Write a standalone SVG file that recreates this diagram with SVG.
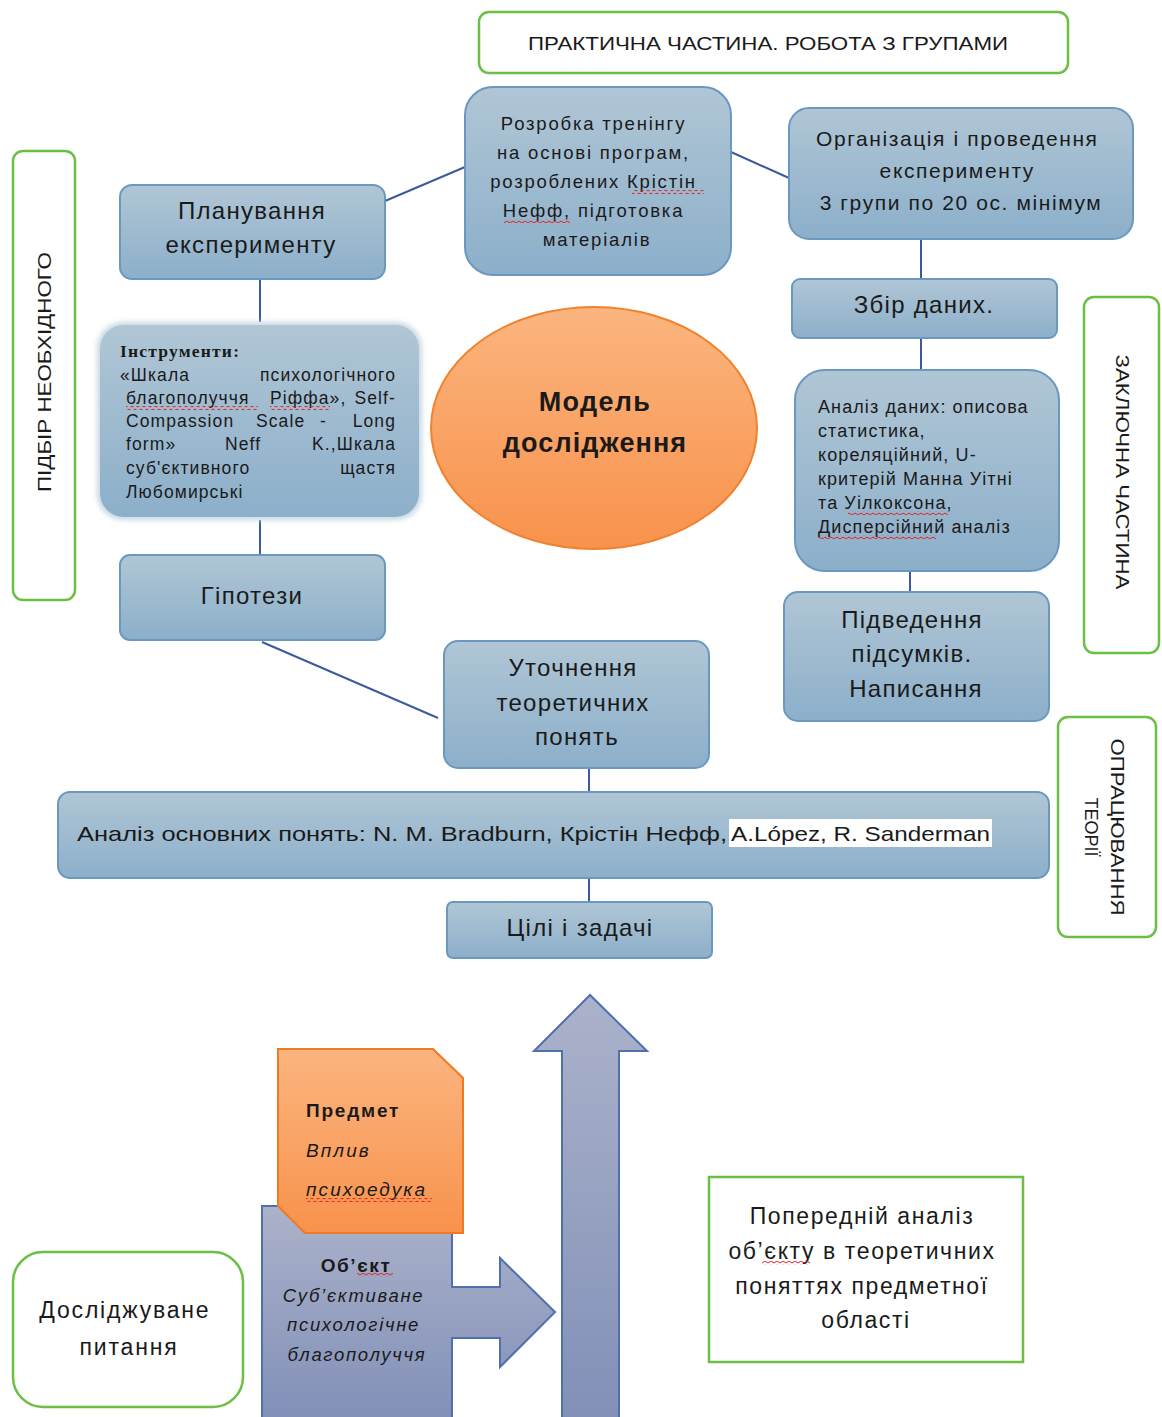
<svg xmlns="http://www.w3.org/2000/svg" width="1162" height="1417" viewBox="0 0 1162 1417">
<defs>
<linearGradient id="gBlue" x1="0" y1="0" x2="0" y2="1"><stop offset="0" stop-color="#b0c6d5"/><stop offset="1" stop-color="#8cafca"/></linearGradient>
<linearGradient id="gOrange" x1="0" y1="0" x2="0" y2="1"><stop offset="0" stop-color="#fbb57f"/><stop offset="1" stop-color="#f8924c"/></linearGradient>
<linearGradient id="gArrow" x1="0" y1="0" x2="0" y2="1"><stop offset="0" stop-color="#abb2ca"/><stop offset="1" stop-color="#8290b8"/></linearGradient>
<pattern id="wave" width="6" height="4" patternUnits="userSpaceOnUse"><path d="M0,3 L3,1 L6,3" fill="none" stroke="#e02020" stroke-width="1"/></pattern>
<filter id="soft" x="-10%" y="-10%" width="120%" height="120%"><feGaussianBlur stdDeviation="2.5"/></filter>
</defs>
<style>
.node{fill:url(#gBlue);stroke:#6a98c0;stroke-width:2}
.green{fill:#fff;stroke:#6cbf45;stroke-width:2.5}
.t{font-family:"Liberation Sans",Arial,sans-serif;fill:#1a1a1a}
.c{text-anchor:middle}
.w{letter-spacing:1.3px;font-size:24px}
.conn{stroke:#3d5a9e;stroke-width:2;fill:none}
.wv{fill:url(#wave)}
</style>
<rect width="1162" height="1417" fill="#fff"/>

<g id="connectors">
<line class="conn" x1="385" y1="201" x2="465" y2="167"/>
<line class="conn" x1="731" y1="152" x2="789" y2="178"/>
<line class="conn" x1="260" y1="279" x2="260" y2="322"/>
<line class="conn" x1="260" y1="520" x2="260" y2="555"/>
<line class="conn" x1="262" y1="642" x2="438" y2="718"/>
<line class="conn" x1="921" y1="239" x2="921" y2="279"/>
<line class="conn" x1="921" y1="338" x2="921" y2="370"/>
<line class="conn" x1="910" y1="571" x2="910" y2="592"/>
<line class="conn" x1="589" y1="768" x2="589" y2="792"/>
<line class="conn" x1="589" y1="878" x2="589" y2="902"/>
</g>

<g id="banner-practical">
<rect class="green" x="479" y="12" width="589" height="61" rx="10"/>
<text class="t c" x="768" y="50" font-size="18" textLength="480" lengthAdjust="spacingAndGlyphs">ПРАКТИЧНА  ЧАСТИНА.  РОБОТА  З ГРУПАМИ</text>
</g>

<g id="label-selection">
<rect class="green" x="13" y="151" width="62" height="449" rx="10"/>
<text class="t c" transform="translate(44,372) rotate(-90)" y="7" font-size="18" textLength="240" lengthAdjust="spacingAndGlyphs">ПІДБІР НЕОБХІДНОГО</text>
</g>

<g id="label-final">
<rect class="green" x="1084" y="297" width="75" height="356" rx="10"/>
<text class="t c" transform="translate(1122,472) rotate(90)" y="6" font-size="18" textLength="235" lengthAdjust="spacingAndGlyphs">ЗАКЛЮЧНА ЧАСТИНА</text>
</g>

<g id="label-theory">
<rect class="green" x="1058" y="717" width="98" height="220" rx="10"/>
<g transform="translate(1105,827) rotate(90)">
<text class="t c" y="-6" font-size="18" textLength="177" lengthAdjust="spacingAndGlyphs">ОПРАЦЮВАННЯ</text>
<text class="t c" y="20" font-size="18">ТЕОРІЇ</text>
</g>
</g>

<g id="node-planning">
<rect class="node" x="120" y="185" width="265" height="94" rx="12"/>
<text class="t c w" x="252" y="219">Планування</text>
<text class="t c w" x="251" y="253">експерименту</text>
</g>

<g id="node-training">
<rect class="node" x="465" y="87" width="266" height="188" rx="28"/>
<text class="t c" font-size="18.5" letter-spacing="1.8">
<tspan x="597" y="130">Розробка тренінгу</tspan>
<tspan x="597" y="159">на основі програм,</tspan>
<tspan x="597" y="188">розроблених Крістін</tspan>
<tspan x="597" y="217">Нефф, підготовка</tspan>
<tspan x="597" y="246">матеріалів</tspan>
</text>
<rect class="wv" x="632" y="190" width="72" height="4"/>
<rect class="wv" x="504" y="219" width="66" height="4"/>
</g>

<g id="node-organization">
<rect class="node" x="789" y="108" width="344" height="131" rx="20"/>
<text class="t c" font-size="21" letter-spacing="1.6">
<tspan x="961" y="146">Організація і проведення</tspan>
<tspan x="961" y="178">експерименту</tspan>
<tspan x="961" y="210">3 групи по 20 ос. мінімум</tspan>
</text>
</g>

<g id="node-collection">
<rect class="node" x="792" y="279" width="265" height="59" rx="8"/>
<text class="t c w" x="924" y="313">Збір даних.</text>
</g>

<g id="node-instruments">
<rect x="97" y="322" width="325" height="198" rx="26" fill="#c9d8e3" filter="url(#soft)"/>
<rect x="100" y="325" width="319" height="192" rx="24" fill="url(#gBlue)"/>
<text x="120" y="357" font-family="Liberation Serif,'Times New Roman',serif" font-weight="bold" font-size="17.5" letter-spacing="1.2" fill="#1a1a1a">Інструменти:</text>
<g class="t" font-size="17.5" letter-spacing="1.1">
<text x="120" y="381">«Шкала</text><text x="396" y="381" text-anchor="end">психологічного</text>
<text x="126" y="404">благополуччя</text><text x="270" y="404">Ріффа»,</text><text x="396" y="404" text-anchor="end">Self-</text>
<text x="126" y="427">Compassion</text><text x="256" y="427">Scale</text><text x="320" y="427">-</text><text x="396" y="427" text-anchor="end">Long</text>
<text x="126" y="450">form»</text><text x="225" y="450">Neff</text><text x="396" y="450" text-anchor="end">K.,Шкала</text>
<text x="126" y="474">суб'єктивного</text><text x="396" y="474" text-anchor="end">щастя</text>
<text x="126" y="498">Любомирські</text>
</g>
<rect class="wv" x="126" y="406" width="132" height="4"/>
<rect class="wv" x="270" y="406" width="60" height="4"/>
</g>

<g id="node-model">
<ellipse cx="594" cy="428" rx="163" ry="121" fill="url(#gOrange)" stroke="#f0822e" stroke-width="2"/>
<text class="t c" x="595" y="411" font-size="27" font-weight="bold" letter-spacing="1.3">Модель</text>
<text class="t c" x="595" y="452" font-size="27" font-weight="bold" letter-spacing="1.1">дослідження</text>
</g>

<g id="node-data-analysis">
<rect class="node" x="795" y="370" width="264" height="201" rx="30"/>
<text class="t" font-size="18" letter-spacing="1.1">
<tspan x="818" y="413">Аналіз даних: описова</tspan>
<tspan x="818" y="437">статистика,</tspan>
<tspan x="818" y="461">кореляційний, U-</tspan>
<tspan x="818" y="485">критерій Манна Уітні</tspan>
<tspan x="818" y="509">та Уілкоксона,</tspan>
<tspan x="818" y="533">Дисперсійний аналіз</tspan>
</text>
<rect class="wv" x="848" y="511" width="100" height="4"/>
<rect class="wv" x="818" y="535" width="118" height="4"/>
</g>

<g id="node-hypotheses">
<rect class="node" x="120" y="555" width="265" height="85" rx="10"/>
<text class="t c w" x="252" y="604">Гіпотези</text>
</g>

<g id="node-summary">
<rect class="node" x="784" y="592" width="265" height="129" rx="14"/>
<text class="t c w">
<tspan x="916" y="628">Підведення</tspan>
<tspan x="916" y="662">підсумків.</tspan>
<tspan x="916" y="697">Написання</tspan>
</text>
</g>

<g id="node-concepts">
<rect class="node" x="444" y="641" width="265" height="127" rx="14"/>
<text class="t c w">
<tspan x="577" y="676">Уточнення</tspan>
<tspan x="577" y="711">теоретичних</tspan>
<tspan x="577" y="745">понять</tspan>
</text>
</g>

<g id="node-main-analysis">
<rect class="node" x="58" y="792" width="991" height="86" rx="12"/>
<rect x="729" y="819" width="263" height="28" fill="#fff"/>
<text class="t" x="77" y="841" font-size="21" textLength="650" lengthAdjust="spacingAndGlyphs">Аналіз основних понять: N. M. Bradburn, Крістін Нефф,</text>
<text class="t" x="731" y="841" font-size="21" textLength="259" lengthAdjust="spacingAndGlyphs">A.López, R. Sanderman</text>
</g>

<g id="node-goals">
<rect class="node" x="447" y="902" width="265" height="56" rx="6"/>
<text class="t c w" x="580" y="936">Цілі і задачі</text>
</g>

<g id="shape-up-arrow">
<path d="M562,1417 L562,1051 L534,1051 L590,995 L647,1051 L619,1051 L619,1417" fill="url(#gArrow)" stroke="#4f6fad" stroke-width="2"/>
</g>

<g id="node-object">
<path d="M262,1417 L262,1206 L452,1206 L452,1287 L500,1287 L500,1258 L555,1312 L500,1367 L500,1338 L452,1338 L452,1417" fill="url(#gArrow)" stroke="#4f6fad" stroke-width="2"/>
<text class="t c" x="356" y="1272" font-size="19" font-weight="bold" letter-spacing="1.6">Об’єкт</text>
<text class="t c" font-size="18.5" font-style="italic" letter-spacing="1.7">
<tspan x="357" y="1302">Суб’єктиване</tspan>
<tspan x="357" y="1331">психологічне</tspan>
<tspan x="357" y="1361">благополуччя</tspan>
</text>
<rect class="wv" x="357" y="1273" width="36" height="4"/>
</g>

<g id="node-subject">
<path d="M278,1049 L433,1049 L463,1078 L463,1233 L305,1233 L278,1206 Z" fill="url(#gOrange)" stroke="#f07a22" stroke-width="2"/>
<text class="t" x="306" y="1117" font-size="19" font-weight="bold" letter-spacing="1.8">Предмет</text>
<text class="t" x="306" y="1157" font-size="19" font-style="italic" letter-spacing="2.1">Вплив</text>
<text class="t" x="306" y="1196" font-size="19" font-style="italic" letter-spacing="2.1">психоедука</text>
<rect class="wv" x="306" y="1198" width="126" height="4"/>
</g>

<g id="node-question">
<rect class="green" x="13" y="1252" width="230" height="155" rx="30"/>
<text class="t c" font-size="23" letter-spacing="1.8">
<tspan x="129" y="1318">Досліджуване</tspan>
<tspan x="129" y="1355">питання</tspan>
</text>
</g>

<g id="node-preliminary">
<rect x="709" y="1177" width="314" height="185" fill="#fff" stroke="#6cbf45" stroke-width="2.5"/>
<text class="t c" font-size="23" letter-spacing="1.6">
<tspan x="866" y="1224">Попередній аналіз</tspan>
<tspan x="866" y="1259">об’єкту в теоретичних</tspan>
<tspan x="866" y="1294">поняттях предметної</tspan>
<tspan x="866" y="1328">області</tspan>
</text>
<rect class="wv" x="762" y="1261" width="48" height="4"/>
</g>
</svg>
